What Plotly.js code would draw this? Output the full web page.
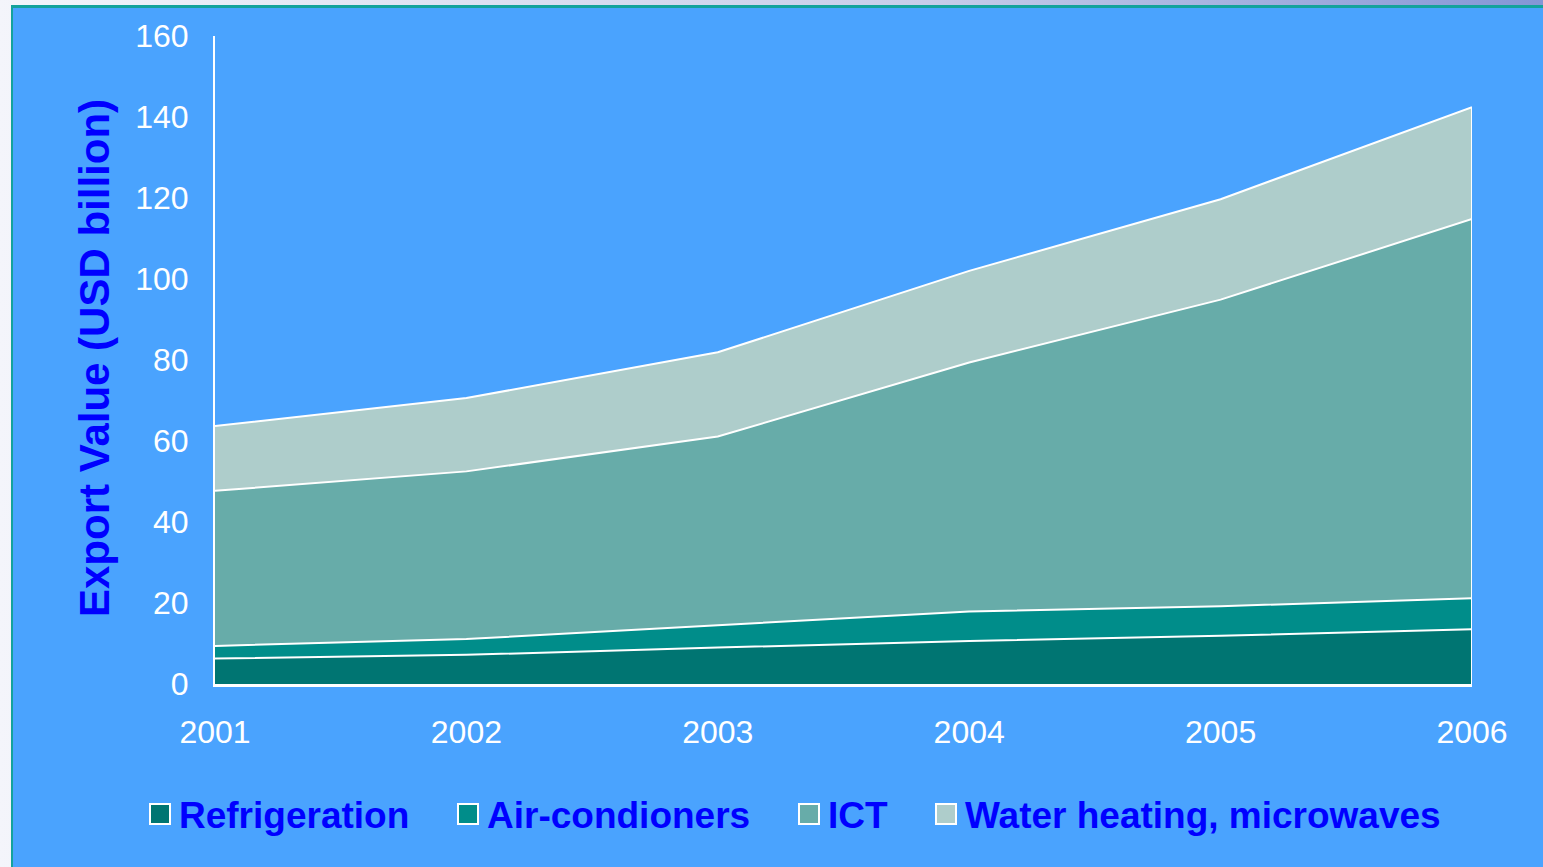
<!DOCTYPE html>
<html>
<head>
<meta charset="utf-8">
<script src="https://cdn.plot.ly/plotly-3.0.1.min.js"></script>
<style>
  html, body { margin: 0; padding: 0; width: 1543px; height: 867px; overflow: hidden; }
  body { background: linear-gradient(90deg, #f4f5fb 0%, #c8cdea 60%, #8496d6 100%); position: relative; }
  #frame { position: absolute; left: 11px; top: 5px; width: 1532px; height: 862px;
           background: #4aa3fe; border-top: 3px solid #14a29c; border-left: 2px solid #14a29c; box-sizing: border-box; }
  #chart { position: absolute; left: 0; top: 0; width: 1543px; height: 867px; }
</style>
</head>
<body>
<div id="frame"></div>
<div id="chart"></div>
<script>
// ---- data ----
const years = [2001, 2002, 2003, 2004, 2005, 2006];
const refrigeration = [6.3, 7.2, 9.0, 10.6, 11.9, 13.5];
const airConditioners = [3.1, 3.9, 5.5, 7.3, 7.3, 7.7];
const ict = [38.3, 41.4, 46.6, 61.5, 75.7, 93.6];
const waterHeating = [16.0, 18.1, 20.8, 22.6, 24.8, 27.6];
const seriesNames = ["Refrigeration", "Air-condioners", "ICT", "Water heating, microwaves"];
const yTicks = [0, 20, 40, 60, 80, 100, 120, 140, 160];

// ---- style ----
const colors = ["#007572", "#008d8a", "#67aca9", "#aecdcb"];
const W = 1543, H = 867;
const L = 215, R = 1472, T = 36, B = 684;
const px2x = p => (p - L) / (R - L);
const py2y = p => (B - p) / (B - T);
const FONT = "Liberation Sans, Arial, sans-serif";

const seriesData = [refrigeration, airConditioners, ict, waterHeating];
const traces = seriesData.map((vals, i) => ({
  type: "scatter", mode: "lines", x: years, y: vals, name: seriesNames[i],
  stackgroup: "one", fillcolor: colors[i],
  line: { color: "#ffffff", width: 2 }, hoverinfo: "x+y+name", showlegend: false
}));
// right-hand edge of the stack
const lastIdx = years.length - 1;
const topTotal = seriesData.reduce((s, arr) => s + arr[lastIdx], 0);
traces.push({
  type: "scatter", mode: "lines", x: [years[lastIdx], years[lastIdx]], y: [0, topTotal],
  line: { color: "#ffffff", width: 2 }, showlegend: false, hoverinfo: "skip"
});

// legend built from names
const legTextX = [180, 488, 829, 966];
const legY = 814;
const shapes = [], annotations = [];
seriesNames.forEach((n, i) => {
  shapes.push({
    type: "rect", xref: "paper", yref: "paper",
    x0: px2x(legTextX[i] - 30), x1: px2x(legTextX[i] - 10),
    y0: py2y(legY + 10), y1: py2y(legY - 10),
    fillcolor: colors[i], line: { color: "#ffffff", width: 2 }
  });
  annotations.push({
    xref: "paper", yref: "paper", x: px2x(legTextX[i] - 3), y: py2y(legY + 1),
    xanchor: "left", yanchor: "middle", showarrow: false, text: n,
    font: { family: FONT, size: 37, color: "#0000ff", weight: "bold" }
  });
});
annotations.push({
  xref: "paper", yref: "paper", x: px2x(94), y: py2y(358),
  xanchor: "center", yanchor: "middle", textangle: -90, showarrow: false,
  text: "<b>Export Value (USD billion)</b>",
  font: { family: FONT, size: 42, color: "#0000ff" }
});

const layout = {
  width: W, height: H,
  margin: { l: L, r: W - R, t: T, b: H - B, pad: 0 },
  paper_bgcolor: "rgba(0,0,0,0)", plot_bgcolor: "rgba(0,0,0,0)",
  showlegend: false,
  xaxis: {
    range: [years[0], years[lastIdx]], tickvals: years, ticktext: years.map(String),
    showgrid: false, zeroline: false, showline: true, linecolor: "#ffffff", linewidth: 3,
    ticks: "", ticklabelstandoff: 18,
    tickfont: { family: FONT, size: 32, color: "#ffffff" }, fixedrange: true
  },
  yaxis: {
    range: [0, 160], tickvals: yTicks, ticktext: yTicks.map(String),
    showgrid: false, zeroline: false, showline: true, linecolor: "#ffffff", linewidth: 2,
    ticks: "", ticklabelstandoff: 18,
    tickfont: { family: FONT, size: 32, color: "#ffffff" }, fixedrange: true
  },
  shapes: shapes,
  annotations: annotations
};

Plotly.newPlot("chart", traces, layout, { staticPlot: true, displayModeBar: false });
</script>
</body>
</html>
